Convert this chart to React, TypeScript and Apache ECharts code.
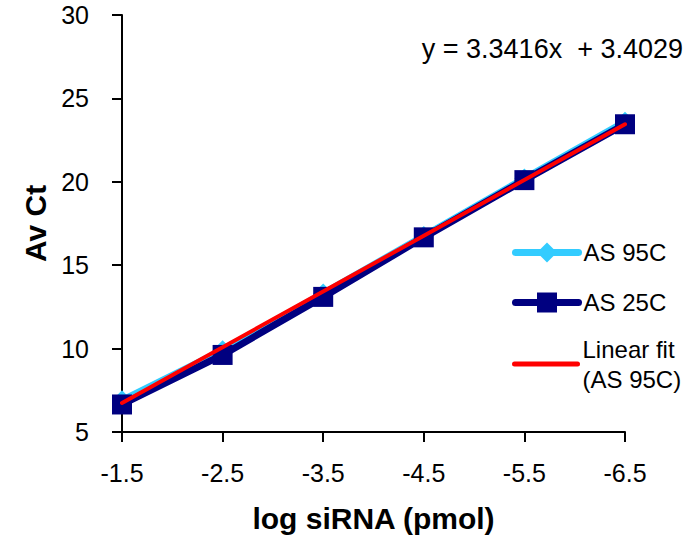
import React, { useEffect, useRef } from "react";
import * as echarts from "echarts";

const categories = ["-1.5", "-2.5", "-3.5", "-4.5", "-5.5", "-6.5"];
const as95Values = [6.9, 9.9, 13.3, 16.75, 20.2, 23.6];
const as25Values = [6.65, 9.62, 13.1, 16.67, 20.1, 23.45];
const fitCategories = ["-1.5", "-6.5"];
const fitValues = [6.74, 23.45];
const equationText = "y = 3.3416x  + 3.4029";

const FONT = "'Liberation Sans', Arial, Helvetica, sans-serif";

export default function App() {
  const ref = useRef<HTMLDivElement>(null);
  useEffect(() => {
    if (!ref.current) return;
    const chart = echarts.init(ref.current, undefined, { renderer: "svg" });
    const legendBase = {
      orient: "vertical",
      left: 507,
      itemWidth: 63,
      itemHeight: 25,
      textStyle: { fontSize: 24, color: "#000", fontFamily: FONT },
      selectedMode: false,
    };
    chart.setOption({
      animation: false,
      backgroundColor: "#fff",
      textStyle: { fontFamily: FONT },
      grid: { left: 122, right: 60, top: 15, bottom: 111 },
      xAxis: {
        type: "category",
        data: categories,
        boundaryGap: false,
        name: "log siRNA (pmol)",
        nameLocation: "middle",
        nameGap: 71,
        nameTextStyle: { fontSize: 30, fontWeight: "bold", color: "#000", fontFamily: FONT },
        axisLine: { lineStyle: { color: "#000", width: 2 } },
        axisTick: { show: true, length: 10, lineStyle: { color: "#000", width: 2 }, alignWithLabel: true },
        axisLabel: { fontSize: 25, color: "#000", margin: 28, fontFamily: FONT },
        splitLine: { show: false },
      },
      yAxis: {
        type: "value",
        min: 5,
        max: 30,
        interval: 5,
        name: "Av Ct",
        nameLocation: "middle",
        nameGap: 66,
        nameTextStyle: { fontSize: 30, fontWeight: "bold", color: "#000", fontFamily: FONT },
        axisLine: { show: true, lineStyle: { color: "#000", width: 2 } },
        axisTick: { show: true, length: 10, lineStyle: { color: "#000", width: 2 } },
        axisLabel: { fontSize: 25, color: "#000", margin: 33, fontFamily: FONT },
        splitLine: { show: false },
      },
      legend: [
        { ...legendBase, top: 235.5, data: ["AS 95C"], lineStyle: { width: 7, cap: "round" } },
        { ...legendBase, top: 285.5, data: ["AS 25C"], lineStyle: { width: 7, cap: "round" } },
        {
          ...legendBase,
          top: 314,
          data: ["Linear fit (AS 95C)"],
          formatter: () => "Linear fit\n(AS 95C)",
          lineStyle: { width: 5, cap: "round" },
          itemStyle: { opacity: 0 },
          textStyle: {
            fontSize: 24,
            color: "#000",
            fontFamily: FONT,
            lineHeight: 30,
            padding: [30, 0, 0, 0],
          },
        },
      ],
      graphic: [
        {
          type: "text",
          right: 2,
          top: 35,
          style: { text: equationText, fontSize: 27, fill: "#000", fontFamily: FONT },
        },
      ],
      series: [
        {
          name: "AS 95C",
          type: "line",
          data: as95Values,
          symbol: "diamond",
          symbolSize: 20,
          itemStyle: { color: "#33CCFF" },
          lineStyle: { color: "#33CCFF", width: 7 },
          z: 2,
        },
        {
          name: "AS 25C",
          type: "line",
          data: as25Values,
          symbol: "rect",
          symbolSize: 20,
          itemStyle: { color: "#000080" },
          lineStyle: { color: "#000080", width: 7 },
          z: 3,
        },
        {
          name: "Linear fit (AS 95C)",
          type: "line",
          data: fitCategories.map((c, i) => [c, fitValues[i]]),
          symbol: "none",
          itemStyle: { color: "#FF0000" },
          lineStyle: { color: "#FF0000", width: 4, cap: "round" },
          z: 4,
        },
      ],
    });
    return () => chart.dispose();
  }, []);
  return (
    <div
      ref={ref}
      style={{ position: "fixed", left: 0, top: 0, width: 685, height: 543 }}
    />
  );
}
